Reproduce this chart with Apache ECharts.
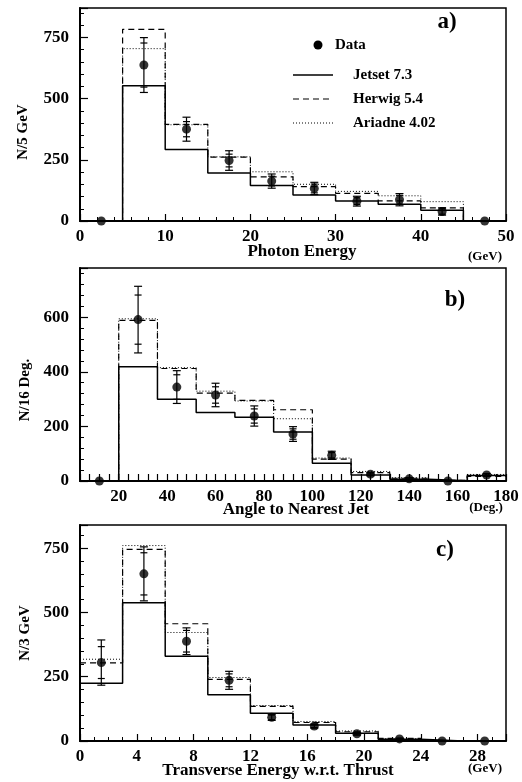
<!DOCTYPE html>
<html><head><meta charset="utf-8">
<script src="https://cdn.jsdelivr.net/npm/echarts@6.0.0/dist/echarts.min.js"></script>
<style>html,body{margin:0;padding:0;background:#fff}#c{width:522px;height:782px}</style>
</head><body><div id="c"></div>
<script>
// ---- Panel a: Photon Energy ----
const aEdges   = [0,5,10,15,20,25,30,35,40,45,50];
const aCenters = [2.5,7.5,12.5,17.5,22.5,27.5,32.5,37.5,42.5,47.5];
const aJetset  = [0,552,292,196,145,106,82,68,44,0];
const aHerwig  = [0,783,395,261,180,140,113,82,54,0];
const aAriadne = [0,704,393,262,201,150,121,103,79,0];
const aData    = [0,637,375,247,163,133,81,87,39,0];
const aErrTot  = [0,112,49,40,29,25,20,25,15,0];
const aErrStat = [0,90,31,26,20,18,14,18,11,0];
// ---- Panel b: Angle to Nearest Jet ----
const bEdges   = [4,20,36,52,68,84,100,116,132,148,164,180];
const bCenters = [12,28,44,60,76,92,108,124,140,156,172];
const bJetset  = [0,418,299,251,233,179,65,22,6,1,20];
const bHerwig  = [0,588,412,322,295,261,80,31,10,2,17];
const bAriadne = [0,594,415,329,293,228,84,35,12,2,24];
const bData    = [0,591,344,315,238,172,94,25,8,0,22];
const bErrTot  = [0,122,60,43,37,27,15,6,4,0,5];
const bErrStat = [0,90,45,30,26,19,10,4,3,0,4];
// ---- Panel c: Transverse Energy w.r.t. Thrust ----
const cEdges   = [0,3,6,9,12,15,18,21,24,27,30];
const cCenters = [1.5,4.5,7.5,10.5,13.5,16.5,19.5,22.5,25.5,28.5];
const cJetset  = [225,538,330,180,108,62,30,7,0,0];
const cHerwig  = [304,745,456,240,135,72,36,10,0,0];
const cAriadne = [318,760,422,247,138,76,39,9,0,0];
const cData    = [305,650,388,236,92,58,28,8,0,0];
const cErrTot  = [88,105,52,35,12,8,5,3,0,0];
const cErrStat = [62,82,42,25,9,6,4,2,0,0];
// tick labels
const aXLabels = [0,10,20,30,40,50];
const bXLabels = [20,40,60,80,100,120,140,160,180];
const cXLabels = [0,4,8,12,16,20,24,28];

const FONT = '"Liberation Serif","DejaVu Serif",serif';
const chart = echarts.init(document.getElementById('c'), null, {renderer:'canvas'});

function stepPts(edges, vals){
  return edges.map((e,i)=>[e, vals[Math.min(i, vals.length-1)]]);
}
function errPts(c, d, et, es){
  return c.map((x,i)=>[x, d[i], et[i], es[i]]);
}
function errItem(params, api){
  const x=api.value(0), y=api.value(1), eo=api.value(2), ei=api.value(3);
  if(!(eo>0)) return {type:'group', children:[]};
  const t=api.coord([x,y+eo]), b=api.coord([x,y-eo]);
  const ti=api.coord([x,y+ei]), bi=api.coord([x,y-ei]);
  const s={stroke:'#000', lineWidth:1.2};
  const cap=(p,w)=>({type:'line', shape:{x1:p[0]-w,y1:p[1],x2:p[0]+w,y2:p[1]}, style:s});
  return {type:'group', children:[
    {type:'line', shape:{x1:t[0],y1:t[1],x2:b[0],y2:b[1]}, style:s},
    cap(t,4), cap(b,4), cap(ti,3.5), cap(bi,3.5)
  ]};
}
const lineStyles = {
  'Jetset 7.3':   {color:'#000', width:1.5, type:'solid'},
  'Herwig 5.4':   {color:'#000', width:1.2, type:[6,4]},
  'Ariadne 4.02': {color:'#000', width:1, type:[1,2]}
};
function panelSeries(idx, edges, centers, J, H, A, D, ET, ES){
  const mk=(name, vals)=>({
    name, type:'line', xAxisIndex:idx, yAxisIndex:idx, step:'end', symbol:'none',
    data: stepPts(edges, vals), lineStyle: lineStyles[name], z:3, animation:false
  });
  return [
    mk('Ariadne 4.02', A), mk('Herwig 5.4', H), mk('Jetset 7.3', J),
    {name:'Data err', type:'custom', xAxisIndex:idx, yAxisIndex:idx, renderItem: errItem,
     encode:{x:0, y:1}, data: errPts(centers, D, ET, ES), z:4, animation:false},
    {name:'Data', type:'scatter', xAxisIndex:idx, yAxisIndex:idx, symbol:'circle', symbolSize:9,
     itemStyle:{color:'#000'}, data: centers.map((x,i)=>[x, D[i]]), z:5, animation:false}
  ];
}
const labelStyle = {color:'#000', fontFamily:FONT, fontWeight:'bold', fontSize:17};
function xAxisCfg(idx, min, max, interval, minorSplit, labels){
  return {
    type:'value', gridIndex:idx, min, max, interval,
    axisLine:{lineStyle:{color:'#000', width:2}},
    axisTick:{inside:true, length:7, lineStyle:{color:'#000', width:1.2}},
    minorTick:{show: minorSplit>0, splitNumber: minorSplit||5, length:4, lineStyle:{color:'#000', width:1}},
    splitLine:{show:false},
    axisLabel:Object.assign({margin:7, interval:0, showMaxLabel:true,
      formatter: v => labels.indexOf(Math.round(v))>=0 && Math.abs(v-Math.round(v))<1e-6 ? String(Math.round(v)) : ''}, labelStyle)
  };
}
function yAxisCfg(idx, max, interval){
  return {
    type:'value', gridIndex:idx, min:0, max, interval,
    axisLine:{lineStyle:{color:'#000', width:2}},
    axisTick:{inside:true, length:8, lineStyle:{color:'#000', width:1.2}},
    minorTick:{show:true, splitNumber:5, length:4, lineStyle:{color:'#000', width:1}},
    splitLine:{show:false},
    axisLabel:Object.assign({margin:11, showMaxLabel:false,
      formatter: v => (v % interval === 0 ? String(v) : '')}, labelStyle)
  };
}
function txt(x, y, text, size, align){
  const a = align || 'center';
  return {type:'text', x, y, silent:true,
    style:{text, fill:'#000', font:'bold '+size+'px '+FONT,
      align:a, verticalAlign:'middle', textAlign:a, textVerticalAlign:'middle'}};
}
function vtxt(x, y, text, size){
  return Object.assign(txt(x, y, text, size), {rotation:Math.PI/2});
}
function legLine(y, dash, w){
  return {type:'line', shape:{x1:293,y1:y,x2:333,y2:y}, silent:true,
    style:{stroke:'#000', lineWidth:w, lineDash:dash}};
}
const graphic = [
  txt(447, 22, 'a)', 23), txt(455, 300, 'b)', 23), txt(445, 550, 'c)', 23),
  txt(302, 252, 'Photon Energy', 17), txt(485, 257, '(GeV)', 13),
  txt(296, 510, 'Angle to Nearest Jet', 17), txt(486, 508, '(Deg.)', 13),
  txt(278, 771, 'Transverse Energy w.r.t. Thrust', 17), txt(485, 769, '(GeV)', 13),
  vtxt(23, 132, 'N/5 GeV', 15),
  vtxt(25, 390, 'N/16 Deg.', 15),
  vtxt(25, 633, 'N/3 GeV', 15),
  {type:'circle', shape:{cx:318, cy:45, r:4.5}, style:{fill:'#000'}, silent:true},
  txt(335, 45, 'Data', 15, 'left'),
  legLine(75, null, 1.5), legLine(99, [6,4], 1.2), legLine(123, [1,2], 1),
  txt(353, 75, 'Jetset 7.3', 15, 'left'),
  txt(353, 99, 'Herwig 5.4', 15, 'left'),
  txt(353, 123, 'Ariadne 4.02', 15, 'left')
];
const gridBase = {show:true, borderColor:'#000', borderWidth:1.5, backgroundColor:'#fff'};
chart.setOption({
  animation:false,
  backgroundColor:'#fff',
  grid:[
    Object.assign({left:80, top:8, width:426, height:213}, gridBase),
    Object.assign({left:80, top:268, width:426, height:213}, gridBase),
    Object.assign({left:80, top:525, width:426, height:216}, gridBase)
  ],
  xAxis:[
    xAxisCfg(0, 0, 50, 10, 5, aXLabels),
    xAxisCfg(1, 4, 180, 4, 0, bXLabels),
    xAxisCfg(2, 0, 30, 4, 4, cXLabels)
  ],
  yAxis:[ yAxisCfg(0, 870, 250), yAxisCfg(1, 780, 200), yAxisCfg(2, 840, 250) ],
  series:[].concat(
    panelSeries(0, aEdges, aCenters, aJetset, aHerwig, aAriadne, aData, aErrTot, aErrStat),
    panelSeries(1, bEdges, bCenters, bJetset, bHerwig, bAriadne, bData, bErrTot, bErrStat),
    panelSeries(2, cEdges, cCenters, cJetset, cHerwig, cAriadne, cData, cErrTot, cErrStat)
  ),
  graphic
});
</script></body></html>
